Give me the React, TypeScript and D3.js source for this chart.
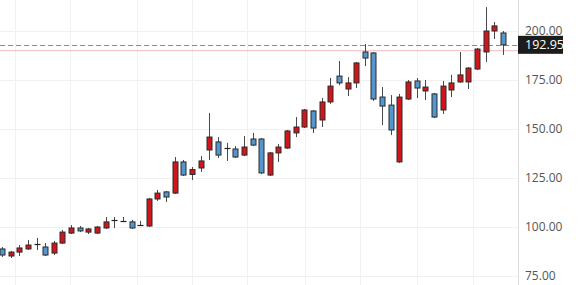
import React from "react";
import * as d3 from "d3";

const opens = [88.8,85.2,87.2,88.8,91.3,89.8,86.7,91.8,96.9,99.5,97.4,96.9,99.5,103.6,103.1,102.6,101.0,100.5,114.3,117.9,117.3,133.2,126.8,130.1,139.3,143.4,140.3,139.8,136.7,144.9,144.9,126.5,137.8,140.3,148.0,151.0,159.2,154.6,163.8,177.0,170.4,173.5,189.3,188.8,166.3,162.2,133.2,165.3,174.5,169.4,167.9,159.7,169.9,174.0,174.0,180.6,189.3,200.0,199.0];
const highs = [89.8,87.8,90.8,93.4,94.4,91.8,92.9,98.5,101.0,100.5,99.5,100.5,105.1,105.1,105.1,103.6,103.1,114.8,118.9,118.4,135.7,134.2,130.6,136.2,158.2,145.9,142.9,141.3,146.4,148.0,145.4,138.3,142.3,149.5,156.1,160.2,159.7,165.8,176.0,184.7,176.5,184.2,193.4,189.3,171.4,167.3,167.9,175.0,176.0,175.0,168.4,174.5,177.6,189.3,181.6,191.3,212.2,204.6,200.0];
const lows = [84.7,84.2,85.2,88.3,88.3,85.2,85.7,91.3,96.4,97.4,96.4,96.4,99.0,99.5,102.6,99.0,100.5,100.0,113.3,112.8,116.8,126.0,124.0,128.1,134.2,135.2,133.7,135.2,136.2,141.3,127.0,126.0,133.2,139.8,145.9,150.5,148.0,151.0,162.8,172.4,166.8,170.9,182.1,164.3,152.0,146.9,132.7,164.8,165.8,164.8,155.6,157.7,166.3,173.5,170.4,180.1,184.2,195.9,187.8];
const closes = [85.7,87.2,89.3,90.8,91.3,85.7,91.8,97.4,99.5,98.0,99.0,100.0,102.6,103.6,103.1,99.5,101.0,114.3,117.3,115.3,133.2,126.5,129.3,133.7,145.9,136.7,140.3,135.7,140.8,141.8,127.6,137.8,140.8,149.0,151.0,159.7,150.5,163.8,171.9,173.5,173.5,183.7,186.2,165.3,161.7,149.5,166.3,174.0,170.9,171.4,156.1,171.9,173.5,177.6,181.1,190.8,200.0,202.6,192.95];

const yTicks = [75, 100, 125, 150, 175, 200];
const gridIdx = [1.5, 7.9, 15.6, 22, 28.4, 35.1, 41.4, 48, 54.5];
const lastPrice = 192.95;
const refLine = 190;

export default function App() {
  const W = 580, H = 285;
  const axisX = 518;
  const x = d3.scaleLinear().domain([0, closes.length - 1]).range([2, 503]);
  const y = d3.scaleLinear().domain([75, 200]).range([276, 31]);
  const bw = 5;
  const font = "'Segoe UI', 'Open Sans', 'Noto Sans', sans-serif";

  return (
    <svg width={W} height={H} style={{ position: "absolute", left: 0, top: 0, background: "#fff" }}>
      {yTicks.map((t) => (
        <line key={"hg" + t} x1={0} x2={axisX} y1={Math.round(y(t)) + 0.5} y2={Math.round(y(t)) + 0.5} stroke="#f1f1f1" />
      ))}
      {gridIdx.map((g, i) => (
        <line key={"vg" + i} x1={Math.round(x(g)) + 0.5} x2={Math.round(x(g)) + 0.5} y1={0} y2={H} stroke="#f1f1f1" />
      ))}
      <line x1={0} x2={axisX} y1={y(refLine)} y2={y(refLine)} stroke="#f0caca" strokeWidth={1.2} />
      <line x1={0} x2={axisX} y1={Math.round(y(lastPrice)) + 0.5} y2={Math.round(y(lastPrice)) + 0.5} stroke="#8a8a8a" strokeDasharray="5,3" />
      {closes.map((c, i) => {
        const o = opens[i];
        const cx = Math.round(x(i)) + 0.5;
        const doji = Math.abs(c - o) < 0.01;
        const fill = c > o ? "#d0161b" : "#5596cf";
        const top = y(Math.max(o, c));
        const bot = y(Math.min(o, c));
        return (
          <g key={i}>
            <line x1={cx} x2={cx} y1={y(highs[i])} y2={y(lows[i])} stroke="#4a4a4a" strokeWidth={1} />
            {doji ? (
              <line x1={cx - 3} x2={cx + 3} y1={Math.round(top) + 0.5} y2={Math.round(top) + 0.5} stroke="#222" strokeWidth={1.2} />
            ) : (
              <rect x={cx - bw / 2} y={top} width={bw} height={Math.max(1, bot - top)} fill={fill} stroke="#2a2a2a" strokeWidth={1} />
            )}
          </g>
        );
      })}
      <line x1={axisX + 0.5} x2={axisX + 0.5} y1={0} y2={H} stroke="#dcdcdc" />
      {yTicks.map((t) => (
        <text key={"yl" + t} x={525} y={y(t)} dy="0.35em" fontSize={12} fill="#555" fontFamily={font}>
          {d3.format(".2f")(t)}
        </text>
      ))}
      <rect x={axisX} y={y(lastPrice) - 9} width={45} height={18} fill="#1c1c1c" />
      <text x={525} y={y(lastPrice)} dy="0.36em" fontSize={12.5} fill="#fff" fontFamily={font}>
        {d3.format(".2f")(lastPrice)}
      </text>
    </svg>
  );
}
